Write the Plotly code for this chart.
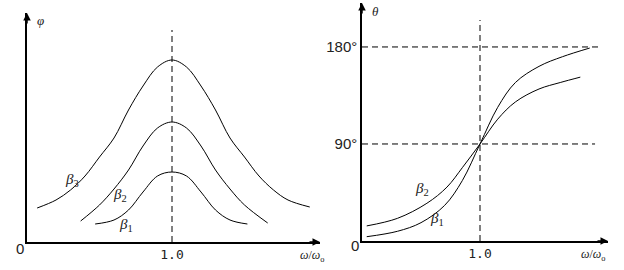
import plotly.graph_objects as go

# ---------------- data ----------------
# Left panel: amplitude-like curves vs w/w0
b3_x = [0.07, 0.20, 0.30, 0.40, 0.50, 0.60, 0.70, 0.80, 0.90, 1.00, 1.10, 1.20, 1.30, 1.40, 1.50, 1.60, 1.70, 1.80, 1.95]
b3_y = [0.34, 0.42, 0.52, 0.66, 0.85, 1.04, 1.32, 1.56, 1.75, 1.82, 1.75, 1.56, 1.32, 1.04, 0.85, 0.66, 0.52, 0.42, 0.35]
b2_x = [0.37, 0.50, 0.60, 0.70, 0.80, 0.90, 1.00, 1.10, 1.20, 1.30, 1.40, 1.50, 1.66]
b2_y = [0.21, 0.37, 0.53, 0.72, 0.96, 1.14, 1.20, 1.14, 0.96, 0.72, 0.53, 0.37, 0.19]
b1_x = [0.47, 0.60, 0.70, 0.80, 0.90, 1.00, 1.10, 1.20, 1.30, 1.40, 1.52]
b1_y = [0.18, 0.22, 0.32, 0.50, 0.66, 0.70, 0.66, 0.50, 0.32, 0.22, 0.18]

# Right panel: phase angle (degrees) vs w/w0
p1_x = [0.04, 0.30, 0.50, 0.70, 0.85, 1.00, 1.15, 1.30, 1.50, 1.70, 1.93]
p1_y = [4, 9, 17, 33, 56, 90, 124, 147, 162, 171, 179]
p2_x = [0.04, 0.30, 0.55, 0.72, 0.85, 1.00, 1.15, 1.30, 1.50, 1.68, 1.85]
p2_y = [14, 21, 35, 50, 68, 90, 113, 129, 141, 147, 152]

x_tick_vals = [1.0]
x_tick_text = ["1.0"]
y_tick_vals = [90, 180]
y_tick_text = ["90°", "180°"]

W, H = 624, 270
def fx(px): return px / W
def fy(py): return 1 - py / H

fig = go.Figure()
line = dict(color="black", width=1, shape="spline", smoothing=1.0)
dash = dict(color="black", width=1, dash="6px,4px")

for xs, ys in [(b3_x, b3_y), (b2_x, b2_y), (b1_x, b1_y)]:
    fig.add_trace(go.Scatter(x=xs, y=ys, mode="lines", line=line, xaxis="x", yaxis="y",
                             showlegend=False, hoverinfo="skip"))
fig.add_trace(go.Scatter(x=[x_tick_vals[0]] * 2, y=[0, 2.12], mode="lines", line=dash,
                         xaxis="x", yaxis="y", showlegend=False, hoverinfo="skip"))

for xs, ys in [(p1_x, p1_y), (p2_x, p2_y)]:
    fig.add_trace(go.Scatter(x=xs, y=ys, mode="lines", line=line, xaxis="x2", yaxis="y2",
                             showlegend=False, hoverinfo="skip"))
fig.add_trace(go.Scatter(x=[x_tick_vals[0]] * 2, y=[0, 205], mode="lines", line=dash,
                         xaxis="x2", yaxis="y2", showlegend=False, hoverinfo="skip"))
fig.add_trace(go.Scatter(x=[0, 2.0], y=[y_tick_vals[1]] * 2, mode="lines", line=dash,
                         xaxis="x2", yaxis="y2", showlegend=False, hoverinfo="skip"))
fig.add_trace(go.Scatter(x=[0, 1.975], y=[y_tick_vals[0]] * 2, mode="lines", line=dash,
                         xaxis="x2", yaxis="y2", showlegend=False, hoverinfo="skip"))

ax_common = dict(showgrid=False, zeroline=False, showline=True, linecolor="black",
                 linewidth=1.5, ticks="", fixedrange=True)
tickfont_mono = dict(family="DejaVu Sans Mono", size=13, color="#222")
tickfont_sans = dict(family="Liberation Sans", size=15, color="#222")

fig.update_layout(
    width=W, height=H, margin=dict(l=0, r=0, t=0, b=0),
    paper_bgcolor="white", plot_bgcolor="white",
    xaxis=dict(domain=[fx(27), fx(320)], range=[0, (320 - 27) / 145], anchor="y",
               tickvals=x_tick_vals, ticktext=x_tick_text, tickfont=tickfont_mono, **ax_common),
    yaxis=dict(domain=[fy(242), fy(13)], range=[0, 2.29], anchor="x",
               showticklabels=False, **ax_common),
    xaxis2=dict(domain=[fx(362), fx(608)], range=[0, (608 - 362) / 118], anchor="y2",
                tickvals=x_tick_vals, ticktext=x_tick_text, tickfont=tickfont_mono, **ax_common),
    yaxis2=dict(domain=[fy(241), fy(3)], range=[0, (241 - 3) / 1.078], anchor="x2",
                tickvals=y_tick_vals, ticktext=y_tick_text, tickfont=tickfont_sans, **ax_common),
)

ann = []
def arrow(px, py, dx, dy):
    ann.append(dict(xref="paper", yref="paper", x=fx(px), y=fy(py), ax=dx, ay=dy,
                    axref="pixel", ayref="pixel", text="", showarrow=True,
                    arrowhead=2, arrowsize=1, arrowwidth=1.5, arrowcolor="black"))
arrow(320, 242, -12, 0)
arrow(27, 13, 0, 12)
arrow(608, 241, -12, 0)
arrow(362, 3, 0, 12)

def txt(px, py, s, size=13, family="Liberation Serif"):
    ann.append(dict(xref="paper", yref="paper", x=fx(px), y=fy(py), text=s, showarrow=False,
                    font=dict(family=family, size=size, color="#222"),
                    xanchor="center", yanchor="middle"))

beta = "<i>β</i><sub>%s</sub>"
txt(72, 180, beta % "3", 15)
txt(120, 195, beta % "2", 15)
txt(126, 225, beta % "1", 15)
txt(422, 189, beta % "2", 15)
txt(437, 219, beta % "1", 15)
txt(40, 21, "<i>φ</i>", 13)
txt(375, 11, "<i>θ</i>", 13)
txt(20, 248, "0", 15, "Liberation Sans")
txt(355, 245, "0", 15, "Liberation Sans")
txt(312, 256, "<i>ω</i>/<i>ω</i><sub>o</sub>", 12)
txt(593, 255, "<i>ω</i>/<i>ω</i><sub>o</sub>", 12)

fig.update_layout(annotations=ann)
fig.write_html("out.html")
